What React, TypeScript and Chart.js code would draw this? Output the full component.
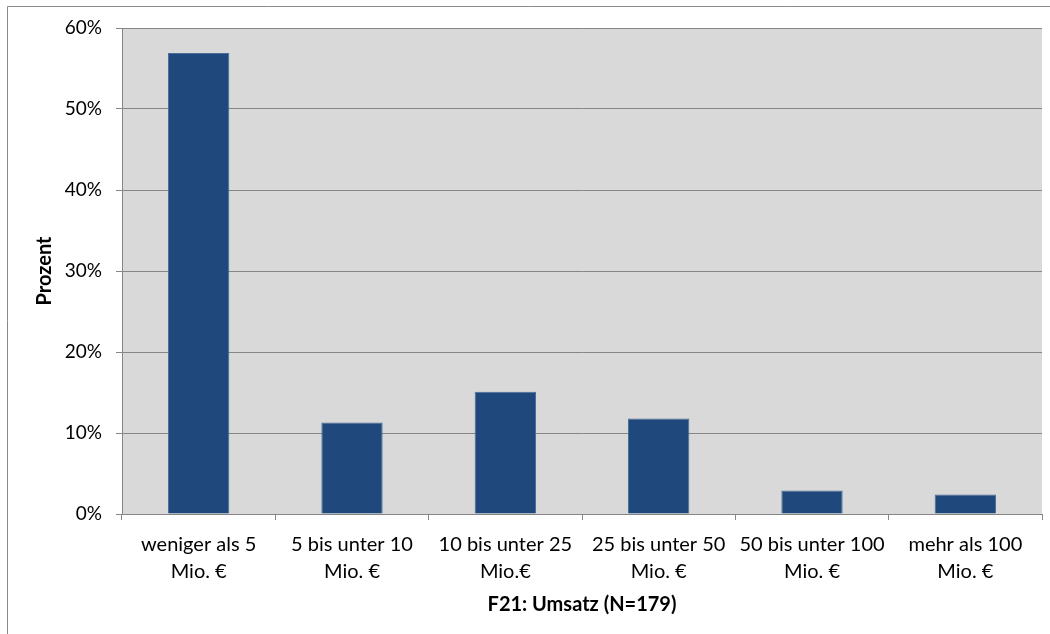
import React, { useEffect, useRef } from "react";
import { Chart, registerables } from "chart.js";

Chart.register(...registerables);

const categories: string[][] = [
  ["weniger als 5", "Mio. €"],
  ["5 bis unter 10", "Mio. €"],
  ["10 bis unter 25", "Mio.€"],
  ["25 bis unter 50", "Mio. €"],
  ["50 bis unter 100", "Mio. €"],
  ["mehr als 100", "Mio. €"],
];
const percentValues: number[] = [56.9, 11.3, 15.1, 11.8, 2.9, 2.4];
const yTickValues: number[] = [0, 10, 20, 30, 40, 50, 60];
const xAxisTitle = "F21: Umsatz (N=179)";
const yAxisTitle = "Prozent";

const FONT = "Lato, 'Open Sans', sans-serif";

const framePlugin = {
  id: "frame",
  beforeDraw(chart: any) {
    const { ctx, chartArea } = chart;
    ctx.save();
    ctx.fillStyle = "#ffffff";
    ctx.fillRect(0, 0, chart.width, chart.height);
    ctx.strokeStyle = "#8a8a8a";
    ctx.lineWidth = 1;
    ctx.beginPath();
    ctx.moveTo(7.5, chart.height + 2);
    ctx.lineTo(7.5, 6.5);
    ctx.lineTo(chart.width + 2, 6.5);
    ctx.stroke();
    ctx.fillStyle = "#d9d9d9";
    ctx.fillRect(
      chartArea.left,
      chartArea.top,
      chartArea.right - chartArea.left,
      chartArea.bottom - chartArea.top
    );
    ctx.restore();
  },
};

export default function App() {
  const ref = useRef<HTMLCanvasElement | null>(null);

  useEffect(() => {
    if (!ref.current) return;
    const padLeft = 30;
    const padBottom = 17;
    const chart = new Chart(ref.current, {
      type: "bar",
      data: {
        labels: categories,
        datasets: [
          {
            data: percentValues,
            backgroundColor: "#1f497d",
            borderColor: "#4a6e98",
            borderWidth: 1,
            barPercentage: 0.4,
            categoryPercentage: 1,
          },
        ],
      },
      options: {
        responsive: false,
        animation: false,
        maintainAspectRatio: false,
        layout: { padding: { left: padLeft, top: 28, right: 8, bottom: padBottom } },
        plugins: {
          legend: { display: false },
          tooltip: { enabled: false },
        },
        scales: {
          x: {
            offset: true,
            grid: {
              offset: true,
              drawOnChartArea: false,
              drawTicks: true,
              tickLength: 6,
              color: "#868686",
            },
            border: { display: true, color: "#868686" },
            ticks: {
              color: "#000000",
              font: { family: FONT, size: 20, lineHeight: 1.35 },
              padding: 11,
              maxRotation: 0,
              autoSkip: false,
            },
            title: {
              display: true,
              text: xAxisTitle,
              color: "#000000",
              font: { family: FONT, size: 20, weight: "bold" },
              padding: { top: 4, bottom: 0 },
            },
            afterFit(scale: any) {
              scale.height = 634 - 514 - padBottom;
            },
          },
          y: {
            min: 0,
            max: 60,
            afterBuildTicks(scale: any) {
              scale.ticks = yTickValues.map((v) => ({ value: v }));
            },
            grid: {
              color: "#868686",
              drawTicks: true,
              tickLength: 6,
            },
            border: { display: true, color: "#868686" },
            ticks: {
              color: "#000000",
              font: { family: FONT, size: 19 },
              padding: 14,
              callback: (v: any) => v + "%",
            },
            title: {
              display: true,
              text: yAxisTitle,
              color: "#000000",
              font: { family: FONT, size: 20, weight: "bold" },
              padding: { top: 3, bottom: 0 },
            },
            afterFit(scale: any) {
              scale.width = 122 - padLeft;
            },
          },
        },
      },
      plugins: [framePlugin],
    } as any);
    return () => chart.destroy();
  }, []);

  return (
    <div style={{ position: "fixed", top: 0, left: 0, width: 1050, height: 634 }}>
      <canvas ref={ref} width={1050} height={634} style={{ display: "block" }} />
    </div>
  );
}
